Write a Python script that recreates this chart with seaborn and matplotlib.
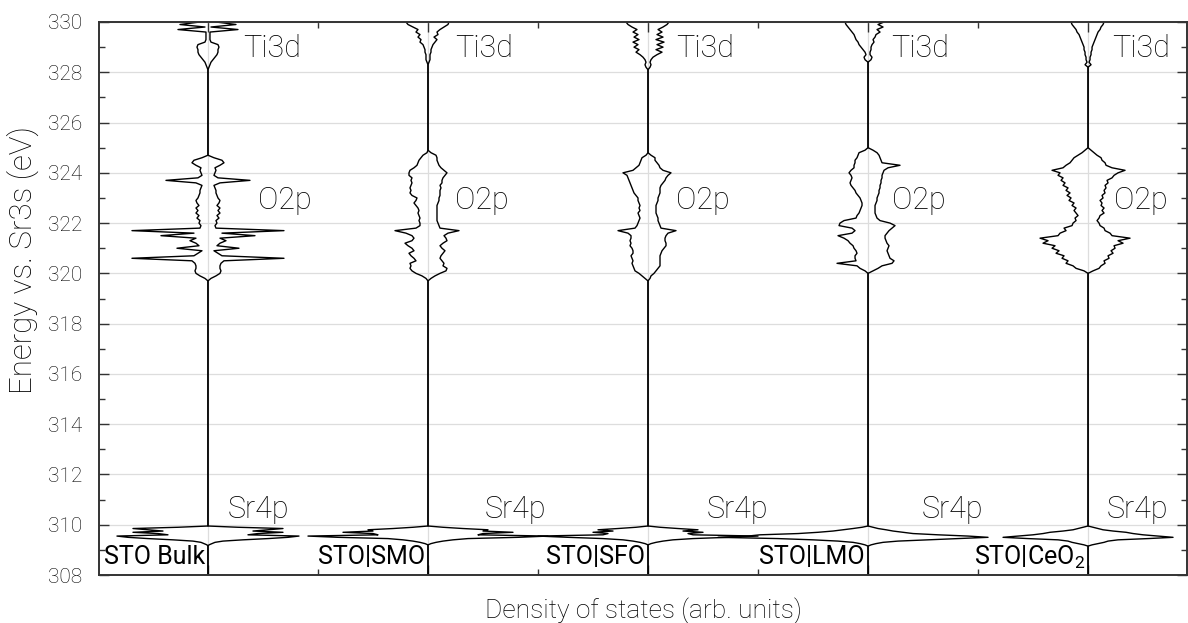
import numpy as np
import matplotlib
matplotlib.use("Agg")
import matplotlib.pyplot as plt
from matplotlib.ticker import MultipleLocator, FixedLocator, NullFormatter
import seaborn as sns

# energy grids (eV) for the three bands
e_sr = [309.00, 309.05, 309.10, 309.15, 309.20, 309.25, 309.30, 309.35, 309.40, 309.45,
        309.50, 309.55, 309.60, 309.65, 309.70, 309.75, 309.80, 309.85, 309.90, 309.95, 310.00]
e_o = [319.7, 319.8, 319.9, 320.0, 320.1, 320.2, 320.3, 320.4, 320.5, 320.6,
       320.7, 320.8, 320.9, 321.0, 321.1, 321.2, 321.3, 321.4, 321.5, 321.6,
       321.7, 321.8, 321.9, 322.0, 322.1, 322.2, 322.3, 322.4, 322.5, 322.6,
       322.7, 322.8, 322.9, 323.0, 323.1, 323.2, 323.3, 323.4, 323.5, 323.6,
       323.7, 323.8, 323.9, 324.0, 324.1, 324.2, 324.3, 324.4, 324.5, 324.6,
       324.7, 324.8, 324.9, 325.0]
e_ti = [328.0, 328.1, 328.2, 328.3, 328.4, 328.5, 328.6, 328.7, 328.8, 328.9,
        329.0, 329.1, 329.2, 329.3, 329.4, 329.5, 329.6, 329.7, 329.8, 329.9, 330.0]

systems = ["STO Bulk", "STO|SMO", "STO|SFO", "STO|LMO", "STO|CeO$_2$"]

# DOS (arb. units), left / right half of each mirrored plot
bulk_sr = [0, 0, 0, 0, 1, 4, 7, 15, 35, 60, 80, 91, 40, 50, 75, 45, 60, 75, 30, 0, 0]
smo_sr = [0, 0, 0, 0, 0, 3, 8, 15, 25, 40, 90, 120, 50, 55, 85, 55, 60, 35, 15, 0, 0]
sfo_sr = [0, 0, 0, 0, 0, 3, 8, 15, 25, 45, 80, 110, 45, 40, 55, 35, 50, 30, 12, 0, 0]
lmo_sr_l = [0, 0, 0, 0, 3, 8, 15, 30, 55, 90, 150, 120, 108, 70, 50, 35, 25, 15, 6, 0, 0]
lmo_sr_r = [0, 0, 0, 0, 3, 8, 15, 30, 60, 90, 120, 100, 70, 45, 35, 25, 18, 10, 5, 0, 0]
ceo_sr = [0, 0, 0, 0, 4, 10, 16, 20, 30, 60, 85, 70, 55, 45, 38, 25, 15, 10, 5, 0, 0]

bulk_o = [0, 3, 8, 12, 13, 12, 12, 13, 16, 76,
          14, 10, 6, 31, 9, 12, 18, 12, 47, 14,
          76, 8, 7, 9, 8, 11, 9, 12, 10, 12,
          9, 11, 12, 10, 9, 8, 8, 7, 6, 12,
          42, 10, 6, 7, 8, 7, 12, 16, 14, 6,
          0, 0, 0, 0]
smo_o_l = [0, 2, 6, 12, 16, 18, 17, 18, 12, 14,
           17, 19, 14, 16, 20, 23, 16, 14, 16, 22,
           33, 12, 8, 8, 9, 8, 9, 10, 9, 10,
           12, 14, 12, 11, 16, 18, 17, 18, 17, 16,
           17, 16, 19, 19, 18, 14, 11, 10, 9, 7,
           5, 1, 0, 0]
smo_o_r = [0, 3, 7, 12, 18, 19, 15, 16, 14, 12,
           13, 15, 17, 14, 12, 15, 19, 18, 16, 20,
           31, 12, 11, 10, 9, 9, 9, 9, 9, 9,
           9, 10, 11, 11, 12, 12, 12, 13, 12, 14,
           14, 15, 17, 19, 16, 13, 11, 10, 9, 9,
           8, 3, 0, 0]
sfo_o_l = [0, 3, 6, 9, 13, 14, 15, 16, 15, 16,
           17, 15, 15, 16, 18, 17, 18, 17, 17, 20,
           30, 13, 11, 10, 9, 8, 9, 10, 8, 9,
           8, 9, 10, 10, 12, 14, 15, 16, 17, 18,
           19, 20, 21, 25, 15, 12, 9, 8, 7, 6,
           2, 0, 0, 0]
sfo_o_r = [0, 2, 3, 6, 8, 10, 12, 12, 12, 12,
           12, 13, 14, 16, 18, 18, 17, 17, 18, 20,
           28, 13, 12, 11, 10, 10, 9, 8, 8, 8,
           8, 9, 10, 10, 11, 12, 12, 12, 13, 15,
           17, 18, 20, 23, 15, 12, 11, 9, 7, 7,
           3, 0, 0, 0]
lmo_o_l = [0, 0, 0, 0, 3, 8, 11, 31, 12, 13,
           13, 11, 12, 14, 15, 18, 20, 24, 30, 16,
           13, 16, 29, 28, 24, 12, 11, 9, 8, 7,
           6, 6, 7, 8, 10, 12, 13, 15, 17, 18,
           17, 16, 17, 19, 17, 14, 14, 13, 13, 11,
           10, 9, 3, 0]
lmo_o_r = [0, 0, 0, 0, 5, 10, 14, 24, 26, 22,
           21, 20, 19, 20, 21, 19, 18, 17, 17, 19,
           21, 24, 27, 22, 12, 9, 8, 7, 7, 7,
           7, 8, 9, 9, 10, 11, 11, 12, 12, 13,
           13, 14, 14, 15, 16, 20, 32, 14, 13, 12,
           11, 9, 5, 0]
ceo_o_l = [0, 0, 0, 0, 4, 12, 15, 22, 20, 26,
           24, 32, 29, 36, 33, 45, 40, 48, 30, 28,
           22, 24, 16, 15, 12, 13, 10, 12, 14, 12,
           16, 14, 19, 17, 21, 18, 22, 20, 25, 23,
           27, 25, 30, 28, 36, 25, 22, 18, 16, 14,
           10, 6, 3, 0]
ceo_o_r = [0, 0, 0, 0, 5, 11, 13, 17, 16, 21,
           20, 25, 23, 27, 26, 35, 30, 42, 24, 22,
           17, 16, 12, 11, 9, 11, 12, 16, 14, 16,
           13, 14, 12, 15, 14, 17, 16, 18, 17, 20,
           19, 24, 26, 30, 37, 24, 18, 17, 14, 13,
           9, 6, 3, 0]

bulk_ti = [0, 0, 1, 2, 3, 5, 7, 9, 10, 10, 11, 10, 3, 2, 2, 2, 2, 30, 3, 28, 8]
smo_ti_l = [0, 0, 0, 0, 1, 2, 2, 2, 3, 3, 4, 5, 8, 7, 10, 8, 12, 10, 15, 20, 22]
smo_ti_r = [0, 0, 0, 0, 1, 2, 2, 2, 3, 3, 4, 5, 7, 9, 6, 10, 9, 12, 16, 20, 21]
sfo_ti_l = [0, 0, 2, 3, 2, 3, 5, 8, 12, 9, 14, 10, 15, 9, 14, 10, 15, 11, 16, 20, 22]
sfo_ti_r = [0, 0, 2, 3, 2, 3, 5, 9, 14, 8, 15, 9, 16, 8, 15, 9, 14, 10, 15, 19, 21]
lmo_ti_l = [0, 0, 0, 0, 0, 3, 4, 2, 3, 5, 7, 9, 10, 12, 13, 14, 16, 18, 20, 22, 23]
lmo_ti_r = [0, 0, 0, 0, 0, 3, 4, 2, 2, 3, 3, 4, 6, 5, 7, 8, 12, 9, 15, 10, 16]
ceo_ti_l = [0, 0, 0, 3, 1, 2, 2, 3, 3, 4, 4, 5, 6, 7, 8, 9, 11, 12, 14, 16, 17]
ceo_ti_r = [0, 0, 0, 3, 1, 2, 2, 3, 3, 4, 4, 5, 6, 7, 8, 9, 10, 12, 13, 15, 16]

left_halves = [(bulk_sr, bulk_o, bulk_ti), (smo_sr, smo_o_l, smo_ti_l), (sfo_sr, sfo_o_l, sfo_ti_l),
               (lmo_sr_l, lmo_o_l, lmo_ti_l), (ceo_sr, ceo_o_l, ceo_ti_l)]
right_halves = [(bulk_sr, bulk_o, bulk_ti), (smo_sr, smo_o_r, smo_ti_r), (sfo_sr, sfo_o_r, sfo_ti_r),
                (lmo_sr_r, lmo_o_r, lmo_ti_r), (ceo_sr, ceo_o_r, ceo_ti_r)]

sns.set_theme(style="ticks")
plt.rcParams['font.family'] = ['Roboto', 'DejaVu Sans']
plt.rcParams['mathtext.fontset'] = 'custom'
plt.rcParams['mathtext.rm'] = 'Roboto'
plt.rcParams['mathtext.default'] = 'regular'

fig = plt.figure(figsize=(11.88, 6.23), dpi=100)
ax = fig.add_axes([0.0833, 0.0770, 0.9159, 0.8877])

spacing = 220
energy = [308.0] + e_sr + e_o + e_ti
for i in range(len(systems)):
    c = i * spacing
    for side, halves in ((-1, left_halves[i]), (1, right_halves[i])):
        dos = np.array([0] + list(halves[0]) + list(halves[1]) + list(halves[2]), dtype=float)
        sns.lineplot(x=c + side * dos, y=energy, sort=False, estimator=None,
                     color='black', linewidth=1.0, ax=ax)

# band labels
lab_kw = dict(fontsize=22, fontweight='light', color='black', va='baseline', ha='left')
ti_dx = [35, 27, 28, 23, 24]
o_dx = [50, 27, 28, 24, 26]
sr_dx = [20, 57, 59, 54, 19]
for i in range(len(systems)):
    c = i * spacing
    ax.text(c + ti_dx[i], 328.62, "Ti3d", **lab_kw)
    ax.text(c + o_dx[i], 322.55, "O2p", **lab_kw)
    ax.text(c + sr_dx[i], 310.25, "Sr4p", **lab_kw)
    ax.text(c - 3, 308.42, systems[i], fontsize=18, color='black', ha='right', va='baseline')

ax.set_xlim(-109, 979)
ax.set_ylim(308, 330)
ax.yaxis.set_major_locator(MultipleLocator(2))
ax.yaxis.set_minor_locator(MultipleLocator(1))
ax.xaxis.set_major_locator(FixedLocator([i * spacing for i in range(5)]))
ax.xaxis.set_minor_locator(FixedLocator([110 + i * spacing for i in range(4)]))
ax.xaxis.set_major_formatter(NullFormatter())
ax.grid(True, which='major', color='#dddddd', linewidth=0.9)
ax.set_axisbelow(True)
ax.tick_params(which='both', direction='in', top=True, right=True, colors='#333333')
ax.tick_params(which='major', length=7, width=1.0)
ax.tick_params(which='minor', length=4, width=1.0)
ax.tick_params(axis='y', labelsize=15, pad=12, labelcolor='black')
for lbl in ax.get_yticklabels():
    lbl.set_fontweight('light')
for sp in ax.spines.values():
    sp.set_color('#333333')
    sp.set_linewidth(1.4)

ax.set_xlabel("Density of states (arb. units)", fontsize=19, fontweight='light', color='black')
ax.set_ylabel("Energy vs. Sr3s (eV)", fontsize=22.5, fontweight='light', color='black')
ax.xaxis.set_label_coords(0.5, -0.04)
ax.yaxis.set_label_coords(-0.055, 0.57)
ax.xaxis.label.set_va('top')

fig.savefig("out.png", dpi=100)
